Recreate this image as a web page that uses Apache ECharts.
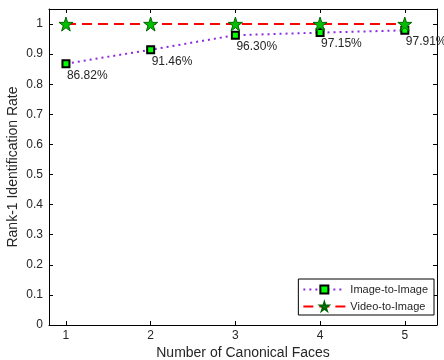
<!DOCTYPE html>
<html><head><meta charset="utf-8">
<script src="https://cdn.jsdelivr.net/npm/echarts@6/dist/echarts.min.js"></script>
<style>html,body{margin:0;padding:0;background:#fff}#c{width:444px;height:360px}</style>
</head><body><div id="c"></div>
<script>
var faces = [1, 2, 3, 4, 5];
var imageToImage = [0.8682, 0.9146, 0.9630, 0.9715, 0.9791];
var videoToImage = [1, 1, 1, 1, 1];
var pctLabels = ['86.82%', '91.46%', '96.30%', '97.15%', '97.91%'];
var yTicks = [0, 0.1, 0.2, 0.3, 0.4, 0.5, 0.6, 0.7, 0.8, 0.9, 1];

var chart = echarts.init(document.getElementById('c'));
var font = 'Liberation Sans, Arial, sans-serif';
var txt = '#262626';
var starPath = 'path://M50,0 L61.8,36.2 L100,36.2 L69.1,58.8 L80.9,95.1 L50,72.4 L19.1,95.1 L30.9,58.8 L0,36.2 L38.2,36.2 Z';
var axisLineStyle = {color: '#000', width: 1};
function pair(vals){ return vals.map(function(v,i){ return [faces[i], v]; }); }
chart.setOption({
  animation: false,
  grid: {left: 49, right: 7, top: 9, bottom: 35, outerBoundsMode: 'none', containLabel: false},
  legend: {
    right: 10, bottom: 45, orient: 'vertical', itemGap: 6,
    backgroundColor: '#fff', borderColor: '#000', borderWidth: 1, padding: [5, 6, 3, 4],
    itemWidth: 42, itemHeight: 10,
    textStyle: {fontFamily: font, fontSize: 11, color: txt},
    data: ['Image-to-Image', 'Video-to-Image']
  },
  xAxis: [{
    type: 'value', min: 0.8, max: 5.38,
    name: 'Number of Canonical Faces', nameLocation: 'middle', nameGap: 21, nameMoveOverlap: false,
    nameTextStyle: {fontFamily: font, fontSize: 14, color: txt},
    axisLine: {show: true, lineStyle: axisLineStyle},
    axisTick: {show: true, inside: true, length: 4, customValues: faces, lineStyle: axisLineStyle},
    axisLabel: {customValues: faces, fontFamily: font, fontSize: 12, color: txt, margin: 5},
    splitLine: {show: false}
  }, {
    type: 'value', min: 0.8, max: 5.38, position: 'top',
    axisLine: {show: true, onZero: false, lineStyle: axisLineStyle},
    axisTick: {show: true, inside: true, length: 4, customValues: faces, lineStyle: axisLineStyle},
    axisLabel: {show: false}, splitLine: {show: false}
  }],
  yAxis: [{
    type: 'value', min: 0, max: 1.05,
    name: 'Rank-1 Identification Rate', nameLocation: 'middle', nameGap: 29, nameMoveOverlap: false,
    nameTextStyle: {fontFamily: font, fontSize: 14, color: txt},
    axisLine: {show: true, lineStyle: axisLineStyle},
    axisTick: {show: true, inside: true, length: 4, customValues: yTicks, lineStyle: axisLineStyle},
    axisLabel: {customValues: yTicks, fontFamily: font, fontSize: 12, color: txt, margin: 6,
      formatter: function(v){ return String(Math.round(v*10)/10); }},
    splitLine: {show: false}
  }, {
    type: 'value', min: 0, max: 1.05, position: 'right',
    axisLine: {show: true, onZero: false, lineStyle: axisLineStyle},
    axisTick: {show: true, inside: true, length: 4, customValues: yTicks, lineStyle: axisLineStyle},
    axisLabel: {show: false}, splitLine: {show: false}
  }],
  series: [{
    name: 'Image-to-Image', type: 'line',
    data: pair(imageToImage),
    symbol: 'rect', symbolSize: 7,
    itemStyle: {color: '#00ff00', borderColor: '#000', borderWidth: 2},
    lineStyle: {color: '#8a2be2', width: 2, type: [2, 4]},
    label: {show: true, position: 'bottom', align: 'left', offset: [1, -4],
      fontFamily: font, fontSize: 12, color: txt,
      formatter: function(p){ return pctLabels[p.dataIndex]; }}
  }, {
    name: 'Video-to-Image', type: 'line',
    data: pair(videoToImage),
    symbol: starPath, symbolSize: 14,
    itemStyle: {color: '#00c000', borderColor: '#006400', borderWidth: 1},
    lineStyle: {color: '#ff0000', width: 2, type: [10, 6]},
    z: 3
  }]
});
</script></body></html>
